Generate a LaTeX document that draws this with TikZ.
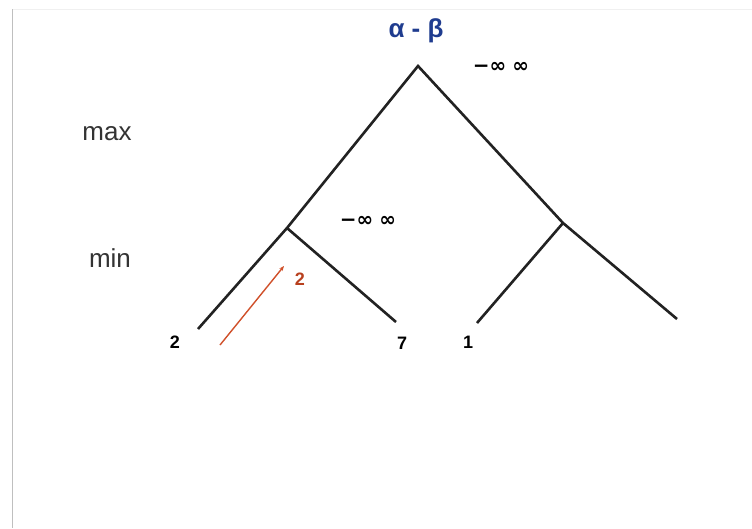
\documentclass[tikz,border=0pt]{standalone}
\usepackage{fontspec}
\setmainfont{Liberation Sans}
\newfontfamily\symfont{DejaVu Sans}
\usetikzlibrary{arrows.meta}
\definecolor{edgegray}{HTML}{222222}
\definecolor{titleblue}{HTML}{1F3C8F}
\definecolor{arrowred}{HTML}{D0502A}
\definecolor{labelred}{HTML}{B8401E}
\begin{document}
\begin{tikzpicture}[x=1pt,y=-1pt,
  edge/.style={draw=edgegray,line width=2.6pt},
  lvl/.style={font=\fontsize{26}{28}\selectfont,text=black!80,inner sep=0pt},
  leaf/.style={font=\bfseries\fontsize{18}{20}\selectfont,inner sep=0pt},
  bounds/.style={font=\symfont\bfseries\fontsize{20}{22}\selectfont,inner sep=0pt}]
\useasboundingbox (0,0) rectangle (752,528);
\fill[white] (0,0) rectangle (752,528);
\draw[black!6,line width=1pt] (12,9.5) -- (752,9.5);
\draw[black!25,line width=1pt] (12.5,9) -- (12.5,528);
% tree points
\coordinate (root) at (418,66);
\coordinate (minL) at (287,228);
\coordinate (minR) at (563,223);
\coordinate (leafA) at (198,329);
\coordinate (leafB) at (396,322);
\coordinate (leafC) at (477,323);
\coordinate (leafD) at (677,319);
\draw[edge] (leafA) -- (minL) -- (root) -- (minR) -- (leafD);
\draw[edge] (minL) -- (leafB);
\draw[edge] (minR) -- (leafC);
% labels
\node[font=\bfseries\fontsize{26}{28}\selectfont,text=titleblue] (title) at (416,31) {α - β};
\node[lvl] (max) at (107,134) {max};
\node[lvl] (min) at (110,258) {min};
\node[bounds] (bR) at (501,67) {−∞\hspace{6pt}∞};
\node[bounds] (bL) at (368,221) {−∞\hspace{6pt}∞};
\node[leaf] (l2) at (175,342) {2};
\node[leaf] (l7) at (402,343) {7};
\node[leaf] (l1) at (468,342) {1};
\node[leaf,text=labelred] (r2) at (300,279) {2};
\coordinate (aS) at (220,345);
\coordinate (aE) at (284,266);
\draw[arrowred,line width=1.4pt,-{Stealth[length=5pt,width=4pt]}] (aS) -- (aE);
\end{tikzpicture}
\end{document}
